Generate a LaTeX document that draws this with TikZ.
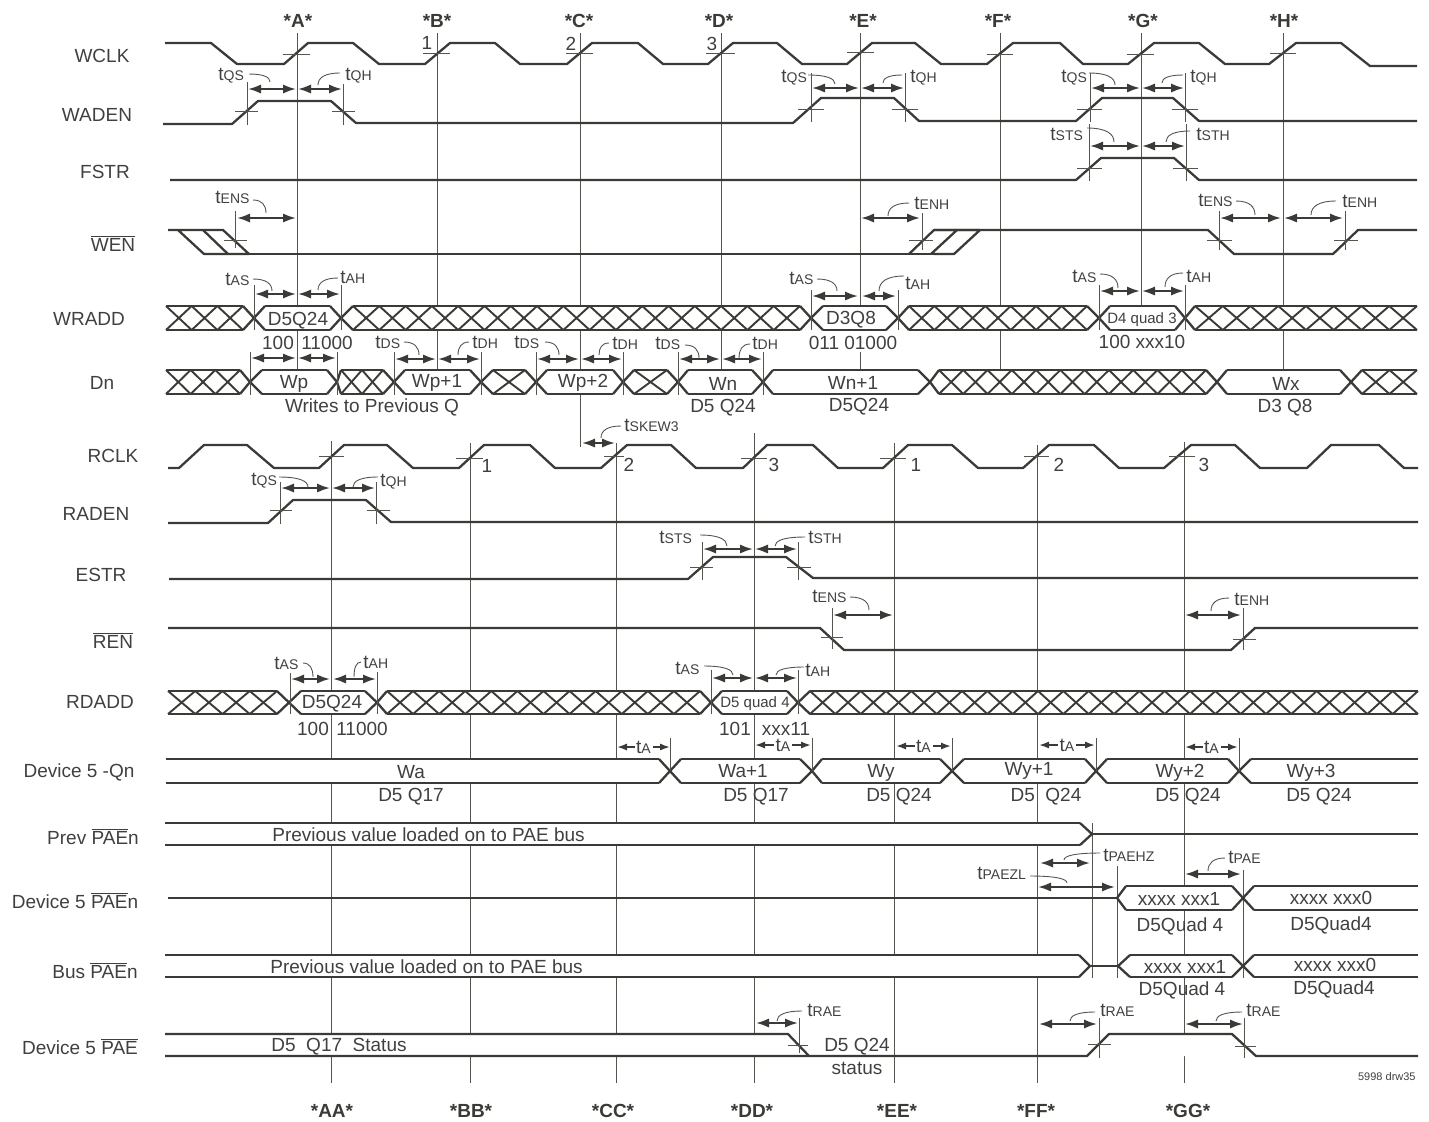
\documentclass[tikz,border=0pt]{standalone}
\usepackage{fontspec}
\setmainfont{Liberation Sans}
\usetikzlibrary{arrows.meta}
\definecolor{sigc}{HTML}{3A3A36}
\definecolor{txtc}{HTML}{404040}
\definecolor{linc}{HTML}{555550}
\tikzset{
  sig/.style={draw=sigc,line width=1.15pt,line join=round},
  xh/.style={draw=sigc,line width=0.95pt},
  guide/.style={draw=linc,line width=0.5pt},
  tickm/.style={draw=linc,line width=0.5pt},
  dimarr/.style={draw=sigc,line width=1pt,{Latex[length=6.5pt,width=4.6pt]}-{Latex[length=6.5pt,width=4.6pt]}},
  taarr/.style={draw=sigc,line width=0.9pt,-{Latex[length=5pt,width=3.6pt]}},
  leaderl/.style={draw=linc,line width=0.45pt},
  txt/.style={text=txtc,inner sep=0pt,text height=6.8pt,text depth=0pt,font=\fontsize{9.5}{11}\selectfont},
  tl/.style={txt,anchor=west},
  smalltxt/.style={text=txtc,inner sep=0pt,text height=5.4pt,text depth=0pt,font=\fontsize{7.5}{9}\selectfont},
  timemark/.style={text=sigc,inner sep=0pt,text height=6.8pt,text depth=0pt,font=\fontsize{9.5}{11}\selectfont\bfseries},
}
\newcommand{\tsub}[1]{t{\fontsize{7}{8}\selectfont #1}}
\newcommand{\tickV}[3]{\draw[tickm] (#1,#2)--(#1,#3);}
\newcommand{\tickH}[3]{\draw[tickm] (#1,#3)--(#2,#3);}
\newcommand{\dimA}[3]{\draw[dimarr] (#1,#3)--(#2,#3);}
\newcommand{\ldr}[4]{\draw[leaderl] (#1,#2) .. controls ({#1+0.7*(#3-#1)},#2) and (#3,{#2+0.4*(#4-#2)}) .. (#3,#4);}
\newcommand{\lbl}[3]{\node[txt] at (#1,#2) {#3};}
\newcommand{\tlb}[3]{\node[tl] at (#1,#2) {\tsub{#3}};}
\newcommand{\tah}[3]{% from, to, y: tA arrow pair
  \pgfmathsetmacro\tamid{(#1+#2)/2}
  \draw[taarr] ({\tamid-9},#3)--(#1,#3);
  \draw[taarr] ({\tamid+9},#3)--(#2,#3);
  \node[txt] at (\tamid,#3) {\tsub{A}};}
\newcommand{\busx}[7]{% tipL, startTop, endTop, tipR, top, bottom, hatch count
  \pgfmathsetmacro\busm{(#5+#6)/2}
  \fill[white] (#1,\busm)--(#2,#5)--(#3,#5)--(#4,\busm)--(#3,#6)--(#2,#6)--cycle;
  \ifnum#7>0
    \pgfmathsetmacro\busp{(#3-#2)/#7}
    \foreach \k in {1,...,#7}{
      \draw[xh] ({#2+(\k-1)*\busp},#5)--({#2+\k*\busp},#6);
      \draw[xh] ({#2+(\k-1)*\busp},#6)--({#2+\k*\busp},#5);
    }
  \fi
  \draw[sig] (#2,#5)--(#3,#5) (#2,#6)--(#3,#6);
  \ifdim#1pt<#2pt \draw[sig] (#2,#5)--(#1,\busm)--(#2,#6);\fi
  \ifdim#4pt>#3pt \draw[sig] (#3,#5)--(#4,\busm)--(#3,#6);\fi
}
\begin{document}
\begin{tikzpicture}[x=0.5pt,y=-0.5pt]
\useasboundingbox (0,0) rectangle (1429,1121);

% ---- guide lines
\draw[guide] (297,33)--(297,370);
\draw[guide] (437,33)--(437,370);
\draw[guide] (580,33)--(580,447);
\draw[guide] (721,33)--(721,370);
\draw[guide] (860,33)--(860,306) (860,352)--(860,370);
\draw[guide] (1000,33)--(1000,370);
\draw[guide] (1141,33)--(1141,306);
\draw[guide] (1283,33)--(1283,370);
\draw[guide] (331,441)--(331,1083);
\draw[guide] (470,443)--(470,1083);
\draw[guide] (616,443)--(616,1083);
\draw[guide] (754,433)--(754,1083);
\draw[guide] (894,443)--(894,1083);
\draw[guide] (1037,445)--(1037,1083);
\draw[guide] (1184,442)--(1184,1083);
\draw[guide] (1092,823)--(1092,978);
\draw[guide] (1117,866)--(1117,978);
\draw[guide] (1243,870)--(1243,978);

% ---- WCLK
\draw[sig] (165,43)--(211,43)--(237,64)--(284,64)--(308,43)--(353,43)--(379,64)--(425,64)--(450,43)--(495,43)--(520,64)--(567,64)--(592,43)--(638,43)--(663,64)--(708,64)--(733,43)--(777,43)--(802,64)--(847,64)--(872,43)--(915,43)--(941,64)--(987,64)--(1013,43)--(1060,43)--(1083,64)--(1128,64)--(1154,43)--(1199,43)--(1225,64)--(1269,64)--(1296,43)--(1341,43)--(1370,66)--(1417,66);
\tickH{283}{310}{54}\tickH{423}{450}{53}\tickH{566}{593}{53}\tickH{706}{735}{53}\tickH{847}{874}{52}\tickH{987}{1013}{54}\tickH{1127}{1154}{54}\tickH{1270}{1296}{53}
\lbl{427}{43}{1}\lbl{571}{44}{2}\lbl{712}{44}{3}

% ---- WADEN
\draw[sig] (163,124)--(232,124)--(258,101)--(331,101)--(356,123)--(793,123)--(821,98)--(894,98)--(919,121)--(1076,121)--(1102,98)--(1173,98)--(1199,121)--(1417,121);
\tickV{247}{82}{125}\tickH{235}{258}{111}\tickV{343}{84}{125}\tickH{332}{355}{111}
\dimA{248}{296}{89}\dimA{298}{342}{89}
\tlb{218}{74}{QS}\ldr{249}{74}{270}{82}\tlb{345}{74}{QH}\ldr{340}{73}{318}{85}
\tickV{811}{73}{122}\tickH{798}{824}{109}\tickV{905}{73}{122}\tickH{892}{918}{109}
\dimA{812}{859}{88}\dimA{861}{904}{88}
\tlb{781}{76}{QS}\ldr{808}{75}{835}{84}\tlb{910}{76}{QH}\ldr{902}{75}{883}{83}
\tickV{1090}{73}{122}\tickH{1077}{1102}{109}\tickV{1185}{73}{122}\tickH{1172}{1198}{109}
\dimA{1091}{1140}{88}\dimA{1142}{1184}{88}
\tlb{1061}{76}{QS}\ldr{1089}{73}{1115}{85}\tlb{1190}{76}{QH}\ldr{1183}{75}{1162}{83}

% ---- FSTR
\draw[sig] (170,180)--(1076,180)--(1101,158)--(1174,158)--(1199,180)--(1417,180);
\tickV{1089}{124}{181}\tickH{1077}{1102}{168}\tickV{1186}{124}{181}\tickH{1173}{1198}{168}
\dimA{1090}{1140}{146}\dimA{1142}{1185}{146}
\tlb{1050}{134}{STS}\ldr{1087}{128}{1114}{142}\tlb{1196}{134}{STH}\ldr{1190}{131}{1166}{142}

% ---- WEN
\draw[sig] (168,230)--(223,230)--(249,254)--(204,254)--(178,230);
\draw[sig] (203,230)--(228,254);
\draw[sig] (204,254)--(934,254)--(909,254);
\draw[sig] (909,254)--(934,230)--(1208,230)--(1234,254)--(1333,254)--(1358,230)--(1417,230);
\draw[sig] (931,254)--(957,230) (934,254)--(954,254)--(980,230)--(934,230);
\tickV{235}{211}{248}\tickH{224}{247}{240}\dimA{237}{296}{218}
\tlb{215}{197}{ENS}\ldr{253}{200}{266}{213}
\tickV{922}{213}{250}\tickH{909}{933}{240}\dimA{861}{920}{218}
\tlb{914}{203}{ENH}\ldr{909}{203}{888}{216}
\tickV{1219}{211}{250}\tickH{1207}{1232}{240}\tickV{1345}{211}{250}\tickH{1334}{1358}{240}
\dimA{1220}{1281}{218}\dimA{1284}{1343}{218}
\tlb{1198}{200}{ENS}\ldr{1236}{201}{1255}{215}\tlb{1342}{201}{ENH}\ldr{1336}{201}{1311}{215}

% ---- WRADD
\busx{166}{166}{243}{254}{306}{330}{3}
\busx{254}{265}{330}{341}{306}{330}{0}
\busx{341}{353}{800}{811}{306}{330}{17}
\busx{811}{823}{886}{898}{306}{330}{0}
\busx{898}{909}{1087}{1099}{306}{330}{7}
\busx{1099}{1110}{1175}{1185}{306}{330}{0}
\busx{1185}{1195}{1417}{1417}{306}{330}{8}
\lbl{298}{319}{D5Q24}\lbl{851}{318}{D3Q8}
\node[smalltxt] at (1142,318) {D4 quad 3};
\lbl{278}{343}{100}\lbl{327}{343}{11000}\lbl{853}{343}{011 01000}\lbl{1142}{342}{100 xxx10}
\tickV{254}{285}{330}\tickV{341}{285}{330}\dimA{255}{296}{294}\dimA{298}{340}{294}
\tlb{225}{279}{AS}\ldr{253}{279}{272}{291}\tlb{340}{277}{AH}\ldr{338}{278}{318}{290}
\tickV{811}{290}{330}\tickV{898}{290}{330}\dimA{812}{858}{296}\dimA{862}{896}{296}
\tlb{789}{278}{AS}\ldr{817}{279}{837}{291}\tlb{905}{283}{AH}\ldr{904}{276}{879}{291}
\tickV{1099}{285}{330}\tickV{1185}{285}{330}\dimA{1100}{1140}{291}\dimA{1142}{1184}{291}
\tlb{1072}{276}{AS}\ldr{1100}{274}{1118}{288}\tlb{1186}{276}{AH}\ldr{1183}{273}{1165}{287}

% ---- Dn
\busx{166}{166}{240}{250}{370}{394}{3}
\busx{250}{262}{327}{337}{370}{394}{0}
\busx{337}{341}{383}{394}{370}{394}{2}
\busx{394}{405}{470}{481}{370}{394}{0}
\busx{481}{493}{525}{536}{370}{394}{1}
\busx{536}{547}{613}{623}{370}{394}{0}
\busx{623}{634}{667}{678}{370}{394}{1}
\busx{678}{688}{752}{763}{370}{394}{0}
\busx{763}{773}{918}{930}{370}{394}{0}
\busx{930}{939}{1206}{1217}{370}{394}{11}
\busx{1217}{1227}{1340}{1351}{370}{394}{0}
\busx{1351}{1362}{1417}{1417}{370}{394}{2}
\lbl{294}{382}{Wp}\lbl{437}{381}{Wp+1}\lbl{583}{381}{Wp+2}\lbl{723}{384}{Wn}\lbl{853}{383}{Wn+1}\lbl{1286}{384}{Wx}
\lbl{372}{406}{Writes to Previous Q}\lbl{723}{406}{D5 Q24}\lbl{859}{405}{D5Q24}\lbl{1285}{406}{D3 Q8}
\tickV{250}{352}{395}\tickV{337}{352}{395}\dimA{251}{296}{358}\dimA{298}{336}{358}
\tickV{394}{352}{395}\tickV{481}{352}{395}\dimA{395}{436}{359}\dimA{438}{480}{359}
\tlb{375}{342}{DS}\ldr{404}{342}{419}{355}\tlb{472}{342}{DH}\ldr{469}{342}{458}{355}
\tickV{536}{352}{395}\tickV{623}{352}{395}\dimA{537}{579}{359}\dimA{581}{622}{359}
\tlb{514}{342}{DS}\ldr{545}{342}{559}{355}\tlb{612}{343}{DH}\ldr{609}{343}{599}{355}
\tickV{678}{352}{395}\tickV{763}{352}{395}\dimA{679}{720}{359}\dimA{722}{762}{359}
\tlb{655}{343}{DS}\ldr{685}{345}{699}{358}\tlb{752}{343}{DH}\ldr{750}{344}{739}{358}

% ---- RCLK
\draw[sig] (168,468)--(179,468)--(204,445)--(247,445)--(274,468)--(319,468)--(344,445)--(387,445)--(413,468)--(459,468)--(484,445)--(530,445)--(555,468)--(601,468)--(627,445)--(671,445)--(696,468)--(743,468)--(767,445)--(813,445)--(838,468)--(883,468)--(908,445)--(952,445)--(978,468)--(1023,468)--(1049,445)--(1094,445)--(1119,468)--(1164,468)--(1191,445)--(1235,445)--(1260,468)--(1307,468)--(1331,445)--(1379,445)--(1404,468)--(1418,468);
\tickH{319}{344}{456}\tickH{456}{483}{458}\tickH{604}{624}{456}\tickH{741}{767}{458}\tickH{880}{906}{458}\tickH{1024}{1049}{456}\tickH{1169}{1195}{456}
\lbl{487}{466}{1}\lbl{629}{465}{2}\lbl{774}{465}{3}\lbl{916}{465}{1}\lbl{1059}{465}{2}\lbl{1204}{465}{3}
\dimA{582}{615}{443}
\tlb{624}{425}{SKEW3}\ldr{621}{426}{601}{438}

% ---- RADEN
\draw[sig] (168,523)--(268,523)--(293,500)--(366,500)--(391,522)--(1418,522);
\tickV{280}{482}{524}\tickH{270}{292}{510}\tickV{376}{482}{524}\tickH{367}{390}{510}
\dimA{281}{330}{488}\dimA{332}{375}{488}
\tlb{251}{479}{QS}\ldr{279}{477}{308}{487}\tlb{380}{480}{QH}\ldr{378}{477}{353}{487}

% ---- ESTR
\draw[sig] (169,579)--(688,579)--(713,557)--(786,557)--(813,578)--(1418,578);
\tickV{702}{542}{580}\tickH{690}{713}{567}\tickV{798}{542}{580}\tickH{787}{811}{567}
\dimA{703}{753}{549}\dimA{755}{797}{549}
\tlb{659}{537}{STS}\ldr{700}{535}{727}{546}\tlb{808}{537}{STH}\ldr{805}{537}{775}{546}

% ---- REN
\draw[sig] (168,628)--(820,628)--(844,650)--(1231,650)--(1255,628)--(1418,628);
\tickV{832}{608}{649}\tickH{821}{843}{637}\tickV{1243}{608}{650}\tickH{1233}{1256}{639}
\dimA{833}{893}{615}\dimA{1185}{1241}{615}
\tlb{812}{596}{ENS}\ldr{850}{597}{869}{610}\tlb{1234}{599}{ENH}\ldr{1229}{598}{1211}{611}

% ---- RDADD
\busx{168}{168}{277}{289}{691}{714}{4}
\busx{289}{301}{365}{377}{691}{714}{0}
\busx{377}{387}{700}{711}{691}{714}{12}
\busx{711}{722}{787}{798}{691}{714}{0}
\busx{798}{810}{1418}{1418}{691}{714}{24}
\lbl{332}{702}{D5Q24}\node[smalltxt] at (755,702) {D5 quad 4};
\lbl{313}{729}{100}\lbl{362}{729}{11000}\lbl{735}{729}{101}\lbl{786}{729}{xxx11}
\tickV{290}{673}{714}\tickV{377}{672}{714}\dimA{291}{330}{679}\dimA{333}{376}{679}
\tlb{274}{663}{AS}\ldr{303}{663}{313}{677}\tlb{363}{662}{AH}\ldr{361}{662}{354}{677}
\tickV{711}{670}{714}\tickV{798}{670}{714}\dimA{712}{753}{678}\dimA{755}{797}{678}
\tlb{675}{668}{AS}\ldr{704}{666}{733}{675}\tlb{805}{670}{AH}\ldr{804}{667}{776}{675}

% ---- Device 5 -Qn
\busx{166}{166}{659}{670}{759}{783}{0}
\busx{670}{681}{800}{812}{759}{783}{0}
\busx{812}{822}{940}{952}{759}{783}{0}
\busx{952}{964}{1085}{1096}{759}{783}{0}
\busx{1096}{1107}{1228}{1239}{759}{783}{0}
\busx{1239}{1251}{1418}{1418}{759}{783}{0}
\lbl{411}{772}{Wa}\lbl{743}{771}{Wa+1}\lbl{881}{771}{Wy}\lbl{1029}{769}{Wy+1}\lbl{1180}{771}{Wy+2}\lbl{1311}{771}{Wy+3}
\lbl{411}{795}{D5 Q17}\lbl{756}{795}{D5 Q17}\lbl{899}{795}{D5 Q24}\lbl{1046}{795}{D5\ \ Q24}\lbl{1188}{795}{D5 Q24}\lbl{1319}{795}{D5 Q24}
\tickV{670}{738}{771}\tickV{812}{738}{771}\tickV{952}{738}{771}\tickV{1096}{738}{771}\tickV{1239}{738}{771}
\tah{617}{670}{747}\tah{755}{811}{745}\tah{896}{951}{746}\tah{1039}{1095}{745}\tah{1185}{1238}{747}

% ---- Prev PAEn
\busx{165}{165}{1080}{1092}{823}{845}{0}
\draw[sig] (1092,834)--(1418,834);
\node[tl] at (272,835) {Previous value loaded on to PAE bus};

% ---- Device 5 PAEn
\draw[sig] (168,898)--(1117,898);
\busx{1117}{1126}{1232}{1243}{886}{910}{0}
\busx{1243}{1254}{1418}{1418}{886}{910}{0}
\lbl{1179}{899}{xxxx xxx1}\lbl{1331}{898}{xxxx xxx0}\lbl{1180}{925}{D5Quad 4}\lbl{1331}{924}{D5Quad4}
\dimA{1040}{1090}{863}\dimA{1038}{1115}{887}\dimA{1185}{1241}{874}
\tlb{1103}{855}{PAEHZ}\ldr{1100}{853}{1064}{860}
\tlb{977}{873}{PAEZL}\ldr{1030}{876}{1067}{883}
\tlb{1228}{857}{PAE}\ldr{1225}{858}{1208}{871}

% ---- Bus PAEn
\busx{165}{165}{1079}{1090}{955}{977}{0}
\draw[sig] (1090,966)--(1118,966);
\busx{1118}{1130}{1232}{1243}{955}{977}{0}
\busx{1243}{1254}{1418}{1418}{955}{977}{0}
\node[tl] at (270,967) {Previous value loaded on to PAE bus};
\lbl{1185}{967}{xxxx xxx1}\lbl{1335}{965}{xxxx xxx0}\lbl{1182}{989}{D5Quad 4}\lbl{1334}{988}{D5Quad4}

% ---- Device 5 PAE
\fill[white] (165,1034)--(788,1034)--(809,1056)--(165,1056)--cycle;
\fill[white] (1087,1056)--(1109,1034)--(1232,1034)--(1256,1056)--cycle;
\draw[sig] (165,1034)--(788,1034)--(809,1056);
\draw[sig] (165,1056)--(1087,1056)--(1109,1034)--(1232,1034)--(1256,1056)--(1418,1056);
\node[tl] at (271,1045) {D5\ \ Q17\ \ Status};
\lbl{857}{1045}{D5 Q24}\lbl{857}{1068}{status}
\tickV{799}{1018}{1053}\tickH{788}{808}{1045}\dimA{756}{798}{1023}
\tlb{807}{1010}{RAE}\ldr{802}{1011}{777}{1021}
\tickV{1099}{1018}{1058}\tickH{1088}{1111}{1044}\dimA{1039}{1097}{1024}
\tlb{1100}{1010}{RAE}\ldr{1095}{1012}{1070}{1021}
\tickV{1244}{1018}{1058}\tickH{1235}{1256}{1046}\dimA{1185}{1243}{1024}
\tlb{1246}{1010}{RAE}\ldr{1242}{1012}{1216}{1021}

% ---- row labels
\lbl{102}{56}{WCLK}\lbl{97}{115}{WADEN}\lbl{105}{172}{FSTR}
\lbl{113}{245}{$\overline{\hbox{WEN}}$}
\lbl{89}{319}{WRADD}\lbl{102}{383}{Dn}\lbl{113}{456}{RCLK}\lbl{96}{514}{RADEN}\lbl{101}{575}{ESTR}
\lbl{113}{642}{$\overline{\hbox{REN}}$}
\lbl{100}{702}{RDADD}\lbl{79}{771}{Device 5 -Qn}
\lbl{93}{838}{Prev $\overline{\hbox{PAE}}$n}
\lbl{75}{902}{Device 5 $\overline{\hbox{PAE}}$n}
\lbl{95}{972}{Bus $\overline{\hbox{PAE}}$n}
\lbl{80}{1048}{Device 5 $\overline{\hbox{PAE}}$}

% ---- time marks
\node[timemark] at (298,21) {*A*};\node[timemark] at (437,21) {*B*};\node[timemark] at (579,21) {*C*};\node[timemark] at (719,21) {*D*};
\node[timemark] at (863,21) {*E*};\node[timemark] at (998,21) {*F*};\node[timemark] at (1143,21) {*G*};\node[timemark] at (1284,21) {*H*};
\node[timemark] at (332,1111) {*AA*};\node[timemark] at (471,1111) {*BB*};\node[timemark] at (613,1111) {*CC*};\node[timemark] at (752,1111) {*DD*};
\node[timemark] at (897,1111) {*EE*};\node[timemark] at (1036,1111) {*FF*};\node[timemark] at (1188,1111) {*GG*};
\node[text=txtc,inner sep=0pt,anchor=east,font=\fontsize{5.5}{7}\selectfont] at (1416,1077) {5998 drw35};
\end{tikzpicture}
\end{document}
